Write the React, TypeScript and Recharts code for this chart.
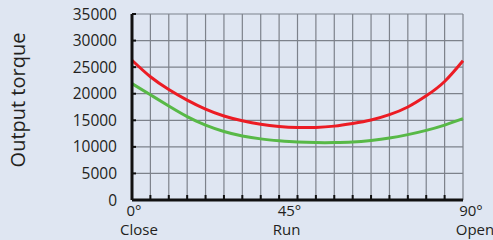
import { LineChart, Line, CartesianGrid, XAxis, YAxis } from "recharts";

const degrees = [0, 5, 10, 15, 20, 25, 30, 35, 40, 45, 50, 55, 60, 65, 70, 75, 80, 85, 90];
const closingTorque = [26300, 23200, 20800, 18800, 17100, 15800, 14900, 14250, 13850, 13650, 13650, 13900, 14400, 15050, 16050, 17500, 19600, 22300, 26200];
const openingTorque = [21900, 19800, 17700, 15700, 14100, 12900, 12050, 11500, 11150, 10900, 10800, 10800, 10900, 11200, 11650, 12300, 13100, 14100, 15300];
const yTicks = [0, 5000, 10000, 15000, 20000, 25000, 30000, 35000];
const xLabels: Record<number, [string, string]> = {
  0: ["0°", "Close"],
  45: ["45°", "Run"],
  90: ["90°", "Open"],
};

const data = degrees.map((d, i) => ({ deg: d, red: closingTorque[i], green: openingTorque[i] }));

const FONT = "'Open Sans', sans-serif";
const TEXT = "#231f20";

function XTick(props: any) {
  const { x, y, payload } = props;
  const lbl = xLabels[payload.value];
  // small shifts so the two-line labels sit like the original artwork
  const shift: Record<number, [number, number]> = { 0: [2, 7], 45: [-8, -11], 90: [8, 12] };
  return (
    <g>
      {payload.value > 0 && payload.value < 90 && (
        <line x1={x} y1={y} x2={x} y2={y - 5} stroke="#111" strokeWidth={2} />
      )}
      {lbl && (
        <>
          <text x={x + shift[payload.value][0]} y={y + 16} textAnchor="middle" fontSize={15} fontFamily={FONT} fill={TEXT}>
            {lbl[0]}
          </text>
          <text x={x + shift[payload.value][1]} y={y + 35} textAnchor="middle" fontSize={15} fontFamily={FONT} fill={TEXT}>
            {lbl[1]}
          </text>
        </>
      )}
    </g>
  );
}

function YTick(props: any) {
  const { x, y, payload } = props;
  return (
    <g>
      {payload.value > 0 && <line x1={x} y1={y} x2={x + 4} y2={y} stroke="#111" strokeWidth={2} />}
      <text x={x - 15} y={y + 5.5} textAnchor="end" fontSize={15.5} fontFamily={FONT} fill={TEXT}>
        {payload.value}
      </text>
    </g>
  );
}

export default function App() {
  return (
    <div style={{ position: "absolute", left: 0, top: 0, width: 493, height: 240, background: "#dfe6f2" }}>
      <LineChart width={493} height={240} data={data} margin={{ top: 14, right: 30, left: 0, bottom: 0 }}>
        <CartesianGrid stroke="#7d828b" strokeWidth={1.2} />
        <XAxis
          dataKey="deg"
          type="number"
          domain={[0, 90]}
          ticks={degrees}
          interval={0}
          height={40}
          tickSize={0}
          tickMargin={0}
          tickLine={false}
          axisLine={{ stroke: "#111", strokeWidth: 3 }}
          tick={<XTick />}
        />
        <YAxis
          type="number"
          domain={[0, 35000]}
          ticks={yTicks}
          interval={0}
          width={132}
          tickSize={0}
          tickMargin={0}
          tickLine={false}
          axisLine={{ stroke: "#111", strokeWidth: 3 }}
          tick={<YTick />}
          label={{
            content: () => (
              <text x={25} y={100} transform="rotate(-90 25 100)" textAnchor="middle" fontSize={20} fontFamily={FONT} fill={TEXT}>
                Output torque
              </text>
            ),
          }}
        />
        <Line type="natural" dataKey="red" stroke="#ec1c24" strokeWidth={3} dot={false} isAnimationActive={false} />
        <Line type="natural" dataKey="green" stroke="#58b947" strokeWidth={3} dot={false} isAnimationActive={false} />
      </LineChart>
    </div>
  );
}
